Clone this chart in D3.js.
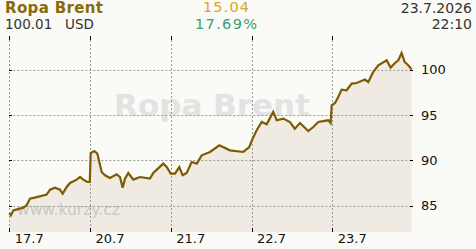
<!DOCTYPE html>
<html>
<head>
<meta charset="utf-8">
<script src="https://cdn.jsdelivr.net/npm/d3@7"></script>
<style>
  body { margin: 0; background: #fafaf6; }
  svg { display: block; font-family: "DejaVu Sans", Verdana, sans-serif; }
</style>
</head>
<body>
<svg width="476" height="249"></svg>
<script>
// categories (one per trading day) and y tick labels
var days = ["17.7", "20.7", "21.7", "22.7", "23.7"];
var yTicks = [85, 90, 95, 100];

// position in days from the start of 17.7, and price
var times = [0, 0.02, 0.05, 0.173, 0.215, 0.256, 0.339, 0.463, 0.504, 0.566, 0.628, 0.661, 0.711, 0.752,
    0.835, 0.876, 0.916, 0.966, 0.997, 1.008, 1.053, 1.09, 1.115, 1.144, 1.185, 1.247, 1.33, 1.371, 1.404,
    1.433, 1.474, 1.536, 1.619, 1.742, 1.783, 1.907, 1.949, 1.999, 2.052, 2.105, 2.147, 2.197, 2.259, 2.321,
    2.383, 2.486, 2.601, 2.733, 2.898, 2.972, 3.014, 3.064, 3.126, 3.188, 3.269, 3.312, 3.393, 3.476, 3.536,
    3.6, 3.703, 3.765, 3.827, 3.95, 3.98, 3.993, 4.034, 4.074, 4.116, 4.178, 4.24, 4.302, 4.405, 4.446, 4.508,
    4.57, 4.674, 4.723, 4.777, 4.818, 4.859, 4.896, 4.941, 4.983];
var prices = [84.19, 83.94, 84.49, 84.78, 85.04, 85.78, 85.95, 86.22, 86.77, 86.99, 86.77, 86.33, 87.06, 87.5,
    87.87, 88.16, 87.87, 87.61, 87.61, 90.81, 91.03, 90.74, 89.81, 88.71, 88.35, 88.05, 88.46, 88.16, 86.99,
    87.98, 88.6, 87.87, 88.16, 87.98, 88.6, 89.64, 89.26, 88.53, 88.53, 89.26, 88.35, 88.6, 89.81, 89.64,
    90.55, 90.92, 91.65, 91.1, 90.92, 91.47, 92.39, 93.31, 94.22, 93.97, 95.33, 94.41, 94.6, 94.22, 93.49,
    94.11, 93.23, 93.67, 94.22, 94.41, 94.11, 96.06, 96.32, 96.98, 97.79, 97.72, 98.46, 98.52, 98.9, 98.63, 99.74,
    100.47, 101.03, 100.22, 100.73, 101.03, 101.83, 100.84, 100.47, 100.01];

var svg = d3.select("svg");

var x = d3.scaleLinear().domain([0, 5]).range([9.3, 413]),
    y = d3.scaleLinear().domain([82.1, 103.7]).range([232, 36]);

var data = times.map(function (t, i) { return { t: t, p: prices[i] }; });

// watermark
svg.append("text")
    .attr("x", 212).attr("y", 116)
    .attr("text-anchor", "middle")
    .attr("font-size", "31px").attr("font-weight", "bold")
    .attr("fill", "#e3e3e3")
    .text("Ropa Brent");

// area under the line
svg.append("path")
    .datum(data)
    .attr("fill", "#efebe2")
    .attr("d", d3.area().x(d => x(d.t)).y0(y.range()[0]).y1(d => y(d.p)));

svg.append("text")
    .attr("x", 17).attr("y", 215)
    .attr("font-size", "15.5px")
    .attr("fill", "#c8c8c8")
    .text("www.kurzy.cz");

// grid
var grid = svg.append("g").attr("stroke", "#999").attr("stroke-dasharray", "2,2");
grid.selectAll(".hy").data(yTicks).enter().append("line")
    .attr("x1", x.range()[0]).attr("x2", x.range()[1])
    .attr("y1", d => Math.round(y(d)) + 0.5).attr("y2", d => Math.round(y(d)) + 0.5);
grid.selectAll(".vx").data(days).enter().append("line")
    .attr("x1", (d, i) => Math.round(x(i)) + 0.5).attr("x2", (d, i) => Math.round(x(i)) + 0.5)
    .attr("y1", y.range()[1]).attr("y2", y.range()[0]);

// black tick marks
var ticks = svg.append("g").attr("stroke", "#000");
yTicks.forEach(function (v) {
    var yy = Math.round(y(v)) + 0.5;
    ticks.append("line").attr("x1", 9).attr("x2", 12).attr("y1", yy).attr("y2", yy);
    ticks.append("line").attr("x1", 410).attr("x2", 413).attr("y1", yy).attr("y2", yy);
});
days.forEach(function (d, i) {
    var xx = Math.round(x(i)) + 0.5;
    ticks.append("line").attr("x1", xx).attr("x2", xx).attr("y1", 36).attr("y2", 40);
    ticks.append("line").attr("x1", xx).attr("x2", xx).attr("y1", 228).attr("y2", 232);
});

// price line
svg.append("path")
    .datum(data)
    .attr("fill", "none")
    .attr("stroke", "#7d5b00")
    .attr("stroke-width", 2.2)
    .attr("d", d3.line().x(d => x(d.t)).y(d => y(d.p)));

// axes labels
var yAxis = svg.append("g")
    .attr("transform", "translate(413,0)")
    .call(d3.axisRight(y).tickValues(yTicks).tickSize(0).tickPadding(8));
yAxis.select(".domain").remove();
yAxis.selectAll("text").attr("font-size", "13px").attr("font-family", "DejaVu Sans").attr("fill", "#111");

var xAxis = svg.append("g")
    .attr("transform", "translate(0,232)")
    .call(d3.axisBottom(x).tickValues(d3.range(days.length)).tickFormat(i => days[i]).tickSize(0).tickPadding(0));
xAxis.select(".domain").remove();
xAxis.selectAll("text")
    .attr("font-size", "13px").attr("font-family", "DejaVu Sans").attr("fill", "#111")
    .attr("text-anchor", "start").attr("x", 5).attr("dy", null).attr("y", 11);

// header
svg.append("text").attr("x", 5).attr("y", 13)
    .attr("font-size", "15px").attr("font-weight", "bold").attr("fill", "#8b6a0c")
    .attr("textLength", 98)
    .text("Ropa Brent");
svg.append("text").attr("x", 5).attr("y", 28.5)
    .attr("font-size", "13.5px").attr("fill", "#333")
    .text("100.01   USD").attr("xml:space", "preserve");
svg.append("text").attr("x", 226).attr("y", 12.3).attr("text-anchor", "middle")
    .attr("font-size", "14.5px").attr("fill", "#dba623")
    .attr("textLength", 46)
    .text("15.04");
svg.append("text").attr("x", 226).attr("y", 28.6).attr("text-anchor", "middle")
    .attr("font-size", "14.5px").attr("fill", "#36a070")
    .attr("textLength", 62)
    .text("17.69%");
svg.append("text").attr("x", 472).attr("y", 13).attr("text-anchor", "end")
    .attr("font-size", "14px").attr("fill", "#333")
    .text("23.7.2026");
svg.append("text").attr("x", 472).attr("y", 28.5).attr("text-anchor", "end")
    .attr("font-size", "14px").attr("fill", "#333")
    .text("22:10");
</script>
</body>
</html>
